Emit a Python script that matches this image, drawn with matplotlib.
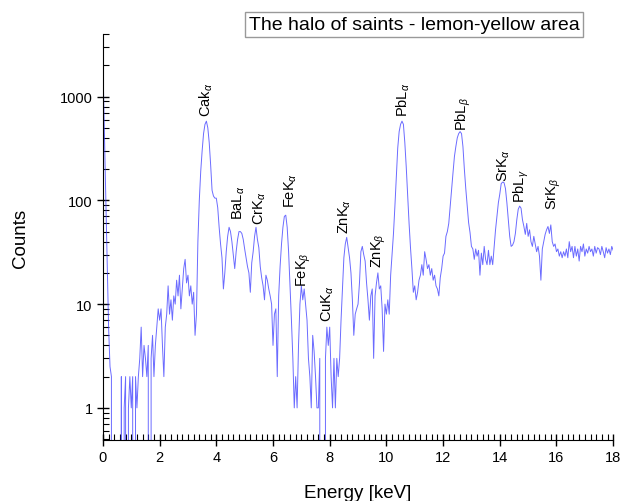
import numpy as np
import matplotlib
matplotlib.use("Agg")
import matplotlib.pyplot as plt
from matplotlib.ticker import MultipleLocator, FixedLocator, FixedFormatter, LogLocator, NullFormatter

plt.rcParams['font.family'] = ['Liberation Sans', 'DejaVu Sans']
plt.rcParams['mathtext.fontset'] = 'custom'
plt.rcParams['mathtext.rm'] = 'Liberation Sans'
plt.rcParams['mathtext.it'] = 'Liberation Sans:italic'

# spectrum channels every 0.05 keV, 0 .. 18 keV
step = 0.05
counts = [
    # 0.00 - 0.95
    2100, 500, 110, 25, 6, 2.5, 2, 0, 0, 0, 0, 0, 0, 2, 0, 1, 2, 0, 1, 2,
    # 1.00 - 1.95
    1, 2, 0, 2, 1, 2, 3, 6, 2, 4, 3, 2, 4, 0, 3, 5, 2, 4, 6, 9,
    # 2.00 - 2.95
    7, 9, 4, 2, 6, 8, 15, 8, 11, 7, 12, 10, 17, 12, 19, 9, 14, 22, 27, 16,
    # 3.00 - 3.95
    19, 12, 15, 10, 13, 5, 8, 40, 100, 190, 300, 440, 540, 580, 500, 360, 220, 125, 110, 105,
    # 4.00 - 4.95
    105, 85, 55, 38, 28, 14, 20, 32, 45, 55, 50, 40, 30, 22, 32, 42, 50, 50, 48, 42,
    # 5.00 - 5.95
    34, 28, 23, 20, 13, 25, 32, 45, 55, 42, 35, 23, 18, 15, 11, 19, 17, 14, 12, 10,
    # 6.00 - 6.95
    4, 8, 9, 2, 12, 23, 38, 55, 70, 72, 55, 32, 15, 7, 3, 1, 2, 1, 4, 10,
    # 7.00 - 7.95
    15, 11, 14, 10, 7, 3, 2, 1, 5, 3.5, 2, 1, 1, 3, 0, 0, 0, 3, 6, 4,
    # 8.00 - 8.95
    6, 2, 1, 3, 1, 3, 2, 3, 7, 14, 28, 38, 44, 35, 28, 20, 11, 5, 8, 9,
    # 9.00 - 9.95
    10, 16, 32, 36, 30, 26, 16, 11, 7, 12, 14, 3, 12, 16, 20, 14, 15, 9, 3.5, 10,
    # 10.00 - 10.95
    8, 11, 8, 19, 30, 48, 88, 170, 320, 460, 540, 580, 540, 360, 210, 110, 60, 35, 22, 13,
    # 11.00 - 11.95
    15, 11, 13, 17, 19, 24, 19, 32, 27, 22, 24, 19, 22, 17, 19, 15, 14, 12, 18, 22,
    # 12.00 - 12.95
    29, 31, 45, 50, 60, 88, 127, 185, 265, 330, 400, 440, 460, 440, 330, 200, 130, 90, 61, 49,
    # 13.00 - 13.95
    36, 34, 27, 34, 29, 33, 19, 31, 24, 36, 27, 24, 33, 24, 29, 24, 35, 52, 70, 95,
    # 14.00 - 14.95
    115, 145, 150, 148, 130, 95, 65, 45, 36, 37, 40, 48, 65, 82, 88, 84, 65, 56, 47, 60,
    # 15.00 - 15.95
    45, 52, 40, 36, 45, 38, 32, 36, 29, 17, 34, 40, 47, 52, 56, 48, 58, 40, 36, 38,
    # 16.00 - 16.95
    32, 34, 29, 32, 28, 32, 29, 34, 28, 40, 32, 36, 28, 36, 29, 34, 26, 36, 32, 38,
    # 17.00 - 18.00
    29, 34, 31, 36, 32, 34, 29, 36, 31, 35, 34, 30, 36, 32, 28, 35, 31, 34, 30, 36, 33,
]
energy = np.arange(len(counts)) * step

# line labels: name, energy (keV), counts at the foot of the label
peak_names = [r"Cak$_\alpha$", r"BaL$_\alpha$", r"CrK$_\alpha$", r"FeK$_\alpha$",
              r"FeK$_\beta$", r"CuK$_\alpha$", r"ZnK$_\alpha$", r"ZnK$_\beta$",
              r"PbL$_\alpha$", r"PbL$_\beta$", r"SrK$_\alpha$", r"PbL$_\gamma$",
              r"SrK$_\beta$"]
peak_e = [3.65, 4.78, 5.52, 6.62, 7.10, 7.95, 8.52, 9.72, 10.58, 12.70, 14.15, 14.76, 15.92]
peak_y = [645, 66, 59, 86, 15, 6.9, 48, 22.7, 655, 480, 155, 96, 82]

fig = plt.figure(figsize=(6.2, 5.02), dpi=100)
ax = fig.add_axes([0.166, 0.1215, 0.823, 0.8085])

ax.plot(energy, counts, color='#3a3aff', lw=0.7, alpha=0.75)
ax.set_yscale('log')
ax.set_xlim(0, 18)
ax.set_ylim(0.49, 4000)

for name, e, y in zip(peak_names, peak_e, peak_y):
    ax.text(e, y, name, rotation=90, ha='center', va='bottom', fontsize=10.5)

ax.spines['top'].set_visible(False)
ax.spines['right'].set_visible(False)

ax.xaxis.set_major_locator(MultipleLocator(2))
ax.xaxis.set_minor_locator(MultipleLocator(0.2))
ax.yaxis.set_major_locator(FixedLocator([1, 10, 100, 1000]))
ax.yaxis.set_major_formatter(FixedFormatter(['1', '10', '100', '1000']))
ax.yaxis.set_minor_locator(LogLocator(base=10, subs=np.arange(2, 10)))
ax.yaxis.set_minor_formatter(NullFormatter())

ax.tick_params(which='major', direction='inout', length=8, width=1, labelsize=10.5)
ax.tick_params(which='minor', direction='in', length=4, width=0.8)

ax.set_xlabel('Energy [keV]', fontsize=13.5, labelpad=14)
ax.set_ylabel('Counts', fontsize=13.5, labelpad=22)

fig.text(0.6676, 0.949, 'The halo of saints - lemon-yellow area', fontsize=14,
         ha='center', va='center',
         bbox=dict(boxstyle='square,pad=0.2', facecolor='white', edgecolor='#999999', lw=1))

fig.savefig('out.png', dpi=100)
